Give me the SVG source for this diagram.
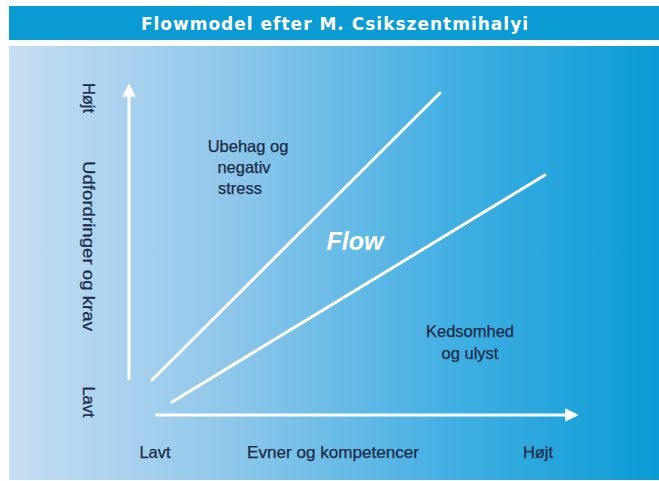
<svg xmlns="http://www.w3.org/2000/svg" width="659" height="481" viewBox="0 0 659 481">
<defs>
<linearGradient id="bg" x1="0" y1="0" x2="1" y2="0">
<stop offset="0" stop-color="#c6ddf2"/>
<stop offset="0.35" stop-color="#8cc6ea"/>
<stop offset="0.7" stop-color="#3eaee2"/>
<stop offset="1" stop-color="#0a9bd6"/>
</linearGradient>
<marker id="ah" viewBox="0 0 10 10" refX="8" refY="5" markerWidth="4.5" markerHeight="4.5" orient="auto" markerUnits="strokeWidth">
<path d="M0,0 L10,5 L0,10 Z" fill="#ffffff"/>
</marker>
<style>
.lbl{font-family:"Liberation Sans",Arial,sans-serif;font-size:16.5px;fill:#1b2b48;stroke:#1b2b48;stroke-width:0.25}
.ax{stroke:#ffffff;stroke-width:3;fill:none}
.ln{stroke:#ffffff;stroke-width:3;stroke-linecap:round}
</style>
</defs>
<rect x="0" y="0" width="659" height="481" fill="#ffffff"/>
<g id="title">
<rect x="9" y="6" width="650" height="34" fill="#0a9ad4"/>
<text x="335" y="30" text-anchor="middle" font-family="'DejaVu Sans',sans-serif" font-weight="bold" font-size="17" letter-spacing="1" fill="#ffffff">Flowmodel efter M. Csikszentmihalyi</text>
</g>
<rect id="panel" x="9" y="46" width="650" height="434" fill="url(#bg)"/>
<g id="connectors">
<line class="ax" x1="129" y1="380" x2="129" y2="86" marker-end="url(#ah)"/>
<line class="ax" x1="155" y1="415" x2="576" y2="415" marker-end="url(#ah)"/>
<line class="ln" x1="152" y1="380" x2="440" y2="93"/>
<line class="ln" x1="172" y1="402" x2="545" y2="175"/>
</g>
<g id="y-labels">
<text class="lbl" transform="translate(83,98) rotate(90)" text-anchor="middle">Højt</text>
<text class="lbl" transform="translate(83,246) rotate(90)" text-anchor="middle" textLength="170" lengthAdjust="spacingAndGlyphs">Udfordringer og krav</text>
<text class="lbl" transform="translate(83,402) rotate(90)" text-anchor="middle">Lavt</text>
</g>
<g id="x-labels">
<text class="lbl" x="155" y="458" text-anchor="middle">Lavt</text>
<text class="lbl" x="333" y="458" text-anchor="middle" textLength="172" lengthAdjust="spacingAndGlyphs">Evner og kompetencer</text>
<text class="lbl" x="538" y="458" text-anchor="middle">Højt</text>
</g>
<g id="zone-ubehag">
<text class="lbl" text-anchor="middle"><tspan x="248" y="152">Ubehag og</tspan><tspan x="244" y="173">negativ</tspan><tspan x="240" y="194">stress</tspan></text>
</g>
<g id="zone-flow">
<text x="355" y="250" text-anchor="middle" font-family="'Liberation Sans',Arial,sans-serif" font-weight="bold" font-style="italic" font-size="25" fill="#ffffff">Flow</text>
</g>
<g id="zone-kedsomhed">
<text class="lbl" text-anchor="middle"><tspan x="470" y="337">Kedsomhed</tspan><tspan x="470" y="359">og ulyst</tspan></text>
</g>
</svg>
